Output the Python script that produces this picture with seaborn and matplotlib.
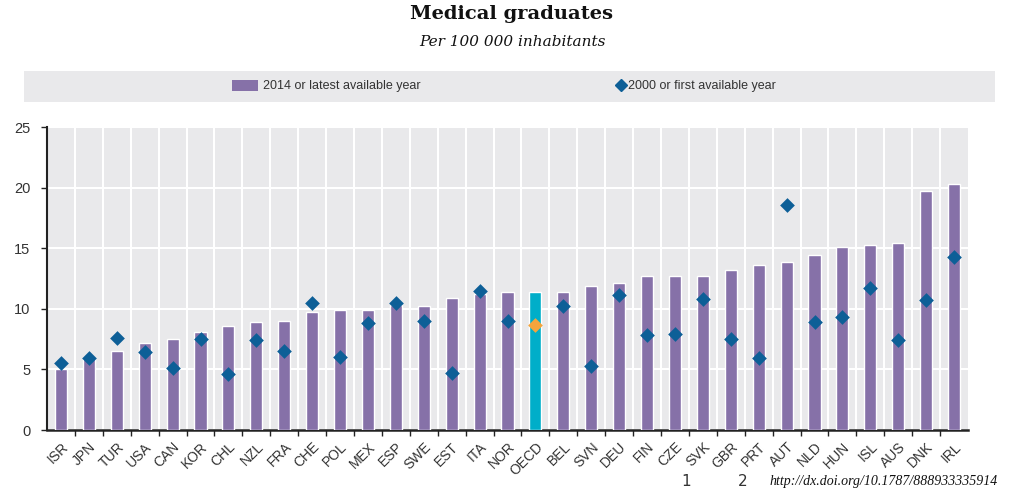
import matplotlib
matplotlib.use("Agg")
import matplotlib.pyplot as plt
import seaborn as sns
import numpy as np
import pandas as pd
from matplotlib.patches import Rectangle
from matplotlib.lines import Line2D
from matplotlib.patches import Patch

countries = ["ISR", "JPN", "TUR", "USA", "CAN", "KOR", "CHL", "NZL", "FRA", "CHE", "POL",
             "MEX", "ESP", "SWE", "EST", "ITA", "NOR", "OECD", "BEL", "SVN", "DEU", "FIN",
             "CZE", "SVK", "GBR", "PRT", "AUT", "NLD", "HUN", "ISL", "AUS", "DNK", "IRL"]
latest = [5.0, 5.9, 6.5, 7.2, 7.5, 8.1, 8.6, 8.9, 9.0, 9.7, 9.9,
          9.9, 10.3, 10.2, 10.9, 11.2, 11.4, 11.4, 11.4, 11.9, 12.1, 12.7,
          12.7, 12.7, 13.2, 13.6, 13.9, 14.4, 15.1, 15.3, 15.4, 19.7, 20.3]
first = [5.5, 5.9, 7.6, 6.4, 5.1, 7.5, 4.6, 7.4, 6.5, 10.5, 6.0,
         8.8, 10.5, 9.0, 4.7, 11.5, 9.0, 8.7, 10.2, 5.3, 11.1, 7.8,
         7.9, 10.8, 7.5, 5.9, 18.6, 8.9, 9.3, 11.7, 7.4, 10.7, 14.3]
legend_labels = ["2014 or latest available year", "2000 or first available year"]

BAR = "#8671a8"
BAR_OECD = "#00aec9"
DIA = "#0d5f97"
DIA_OECD = "#f4a43c"
BG = "#e9e9eb"
TXT = "#333333"

df = pd.DataFrame({"country": countries, "latest": latest, "first": first})
df["grp"] = np.where(df["country"] == "OECD", "oecd", "c")

sns.set_theme(style="white")
plt.rcParams["font.family"] = ["Liberation Sans", "DejaVu Sans"]

fig = plt.figure(figsize=(10.24, 4.95), dpi=100)
ax = fig.add_axes([47/1024, 65/495, 921/1024, 303/495])
ax.set_facecolor(BG)

sns.barplot(data=df, x="country", y="latest", hue="grp", dodge=False,
            palette={"c": BAR, "oecd": BAR_OECD}, width=0.43, legend=False,
            saturation=1, ax=ax, zorder=3)
sns.stripplot(data=df, x="country", y="first", hue="grp", jitter=False, dodge=False,
              palette={"c": DIA, "oecd": DIA_OECD}, marker="D", size=7.5, linewidth=0,
              legend=False, ax=ax, zorder=4)

n = len(countries)
ax.set_xlim(-0.5, n - 0.5)
ax.set_ylim(0, 25)
ax.set_yticks([0, 5, 10, 15, 20, 25])
ax.set_xticks(np.arange(n))
ax.set_xticks(np.arange(n - 1) + 0.5, minor=True)
ax.set_xticklabels(countries, rotation=45, ha="right", rotation_mode="anchor", fontsize=10, color=TXT)
ax.tick_params(axis="x", which="major", length=0, pad=7)
ax.tick_params(axis="x", which="minor", length=4, width=1, color="#222222", direction="out", bottom=True)
ax.tick_params(axis="y", length=4, width=1, color="#222222", direction="out", left=True,
               labelsize=10.5, labelcolor=TXT, pad=8)
ax.grid(True, axis="y", color="white", linewidth=1.5, zorder=0)
ax.grid(True, axis="x", which="minor", color="white", linewidth=1.5, zorder=0)
ax.set_axisbelow(True)
ax.set_xlabel("")
ax.set_ylabel("")
for s in ["top", "right"]:
    ax.spines[s].set_visible(False)
ax.spines["left"].set_color("#222222")
ax.spines["bottom"].set_color("#222222")
ax.spines["left"].set_linewidth(1.5)
ax.spines["bottom"].set_linewidth(1.8)

# Titles
fig.text(0.5, 1 - 14/495, "Medical graduates", ha="center", va="center",
         fontsize=14, fontweight="bold", family=["DejaVu Serif"], color="#111111")
fig.text(0.5, 1 - 42/495, "Per 100 000 inhabitants", ha="center", va="center",
         fontsize=11, style="italic", family=["DejaVu Serif"], color="#111111")

# Legend band
fig.patches.append(Rectangle((24/1024, 1 - 102/495), 971/1024, 31/495,
                             transform=fig.transFigure, facecolor=BG, edgecolor="none", zorder=0))
leg1 = fig.legend([Patch(facecolor=BAR, edgecolor="none")], [legend_labels[0]],
                  loc="center left", bbox_to_anchor=(232/1024, 1 - 86/495),
                  frameon=False, fontsize=9, handlelength=2.1, handleheight=1.0,
                  handletextpad=0.35, borderpad=0, borderaxespad=0, labelcolor=TXT)
fig.legend([Line2D([], [], marker="D", color=DIA, linestyle="none", markersize=6)], [legend_labels[1]],
           loc="center left", bbox_to_anchor=(616/1024, 1 - 86/495),
           frameon=False, fontsize=9, handlelength=0.8, handletextpad=0.15,
           borderpad=0, borderaxespad=0, labelcolor=TXT)

# Footer
fig.text(686/1024, 1 - 481/495, "1", ha="center", va="center", fontsize=11, family=["DejaVu Sans"], color=TXT)
fig.text(743/1024, 1 - 481/495, "2", ha="center", va="center", fontsize=11, family=["DejaVu Sans"], color=TXT)
fig.text(770/1024, 1 - 481/495, "http://dx.doi.org/10.1787/888933335914", ha="left", va="center",
         fontsize=10, style="italic", family=["Liberation Serif"], color="#111111")

fig.savefig("out.png", dpi=100)
